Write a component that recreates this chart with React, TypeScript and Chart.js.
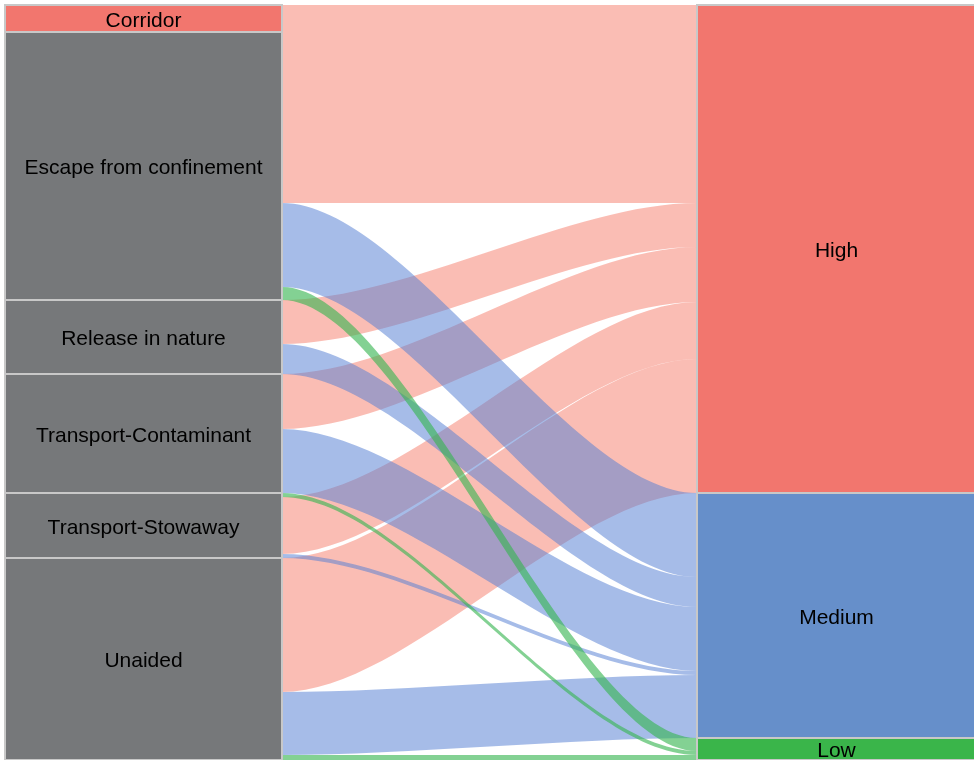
import React, { useEffect, useRef } from 'react';
import { Chart, registerables } from 'chart.js';

Chart.register(...registerables);

// ---- data ----
const sourceNodes = [
  'Corridor',
  'Escape from confinement',
  'Release in nature',
  'Transport-Contaminant',
  'Transport-Stowaway',
  'Unaided',
];
const targetNodes = ['High', 'Medium', 'Low'];
const toHigh = [27, 171, 44, 55, 57, 134];
const toMedium = [0, 84, 30, 64, 4, 63];
const toLow = [0, 13, 0, 0, 4, 5];
// order of the outgoing flows stacked inside each source node (top to bottom)
const sourceStackOrder = [
  ['High', 'Medium', 'Low'],
  ['High', 'Medium', 'Low'],
  ['High', 'Medium', 'Low'],
  ['High', 'Medium', 'Low'],
  ['Low', 'High', 'Medium'],
  ['High', 'Medium', 'Low'],
];

// ---- styles ----
const sourceColors = ['#F2766E', '#76787A', '#76787A', '#76787A', '#76787A', '#76787A'];
const targetColors: Record<string, string> = { High: '#F2766E', Medium: '#668FCA', Low: '#3AB54A' };
const linkColors: Record<string, string> = {
  High: 'rgba(246,128,112,0.52)',
  Medium: 'rgba(84,126,210,0.52)',
  Low: 'rgba(55,180,80,0.62)',
};
const NODE_W = 277 / 969;
const CURVE = 0.3;
const BORDER = '#C8C8C8';
const FONT = '21px "Liberation Sans", Arial, sans-serif';

type Link = { s: number; t: string; v: number; sy0: number; sy1: number; ty0: number; ty1: number };

function buildLayout() {
  const byTarget: Record<string, number[]> = { High: toHigh, Medium: toMedium, Low: toLow };
  const srcTotals = sourceNodes.map((_, i) => toHigh[i] + toMedium[i] + toLow[i]);
  const tgtTotals = targetNodes.map((t) => byTarget[t].reduce((a, b) => a + b, 0));
  const srcStart: number[] = [];
  let acc = 0;
  srcTotals.forEach((v) => { srcStart.push(acc); acc += v; });
  const tgtStart: Record<string, number> = {};
  let acc2 = 0;
  targetNodes.forEach((t, j) => { tgtStart[t] = acc2; acc2 += tgtTotals[j]; });

  const links: Link[] = [];
  sourceNodes.forEach((_, i) => {
    let y = srcStart[i];
    sourceStackOrder[i].forEach((t) => {
      const v = byTarget[t][i];
      if (v > 0) {
        links.push({ s: i, t, v, sy0: y, sy1: y + v, ty0: 0, ty1: 0 });
        y += v;
      }
    });
  });
  targetNodes.forEach((t) => {
    let y = tgtStart[t];
    links
      .filter((l) => l.t === t)
      .sort((a, b) => a.s - b.s)
      .forEach((l) => { l.ty0 = y; l.ty1 = y + l.v; y += l.v; });
  });
  return { srcTotals, tgtTotals, srcStart, tgtStart, links, total: acc };
}

const layout = buildLayout();

const sankeyPlugin = {
  id: 'sankeyDraw',
  afterDatasetsDraw(chart: any) {
    const ctx = chart.ctx as CanvasRenderingContext2D;
    const xs = chart.scales.x;
    const ys = chart.scales.y;
    const lx0 = xs.getPixelForValue(0);
    const lx1 = xs.getPixelForValue(NODE_W);
    const rx0 = xs.getPixelForValue(1 - NODE_W);
    const rx1 = xs.getPixelForValue(1);
    const c1 = lx1 + (rx0 - lx1) * CURVE;
    const c2 = rx0 - (rx0 - lx1) * CURVE;
    ctx.save();

    // links, by target
    targetNodes.forEach((t) => {
      layout.links.filter((l) => l.t === t).forEach((l) => {
        const a0 = ys.getPixelForValue(l.sy0);
        const a1 = ys.getPixelForValue(l.sy1);
        const b0 = ys.getPixelForValue(l.ty0);
        const b1 = ys.getPixelForValue(l.ty1);
        ctx.beginPath();
        ctx.moveTo(lx1, a0);
        ctx.bezierCurveTo(c1, a0, c2, b0, rx0, b0);
        ctx.lineTo(rx0, b1);
        ctx.bezierCurveTo(c2, b1, c1, a1, lx1, a1);
        ctx.closePath();
        ctx.fillStyle = linkColors[t];
        ctx.fill();
      });
    });

    ctx.font = FONT;
    ctx.textAlign = 'center';
    ctx.textBaseline = 'middle';

    const drawNode = (x0: number, x1: number, v0: number, v1: number, color: string, label: string) => {
      const y0 = ys.getPixelForValue(v0);
      const y1 = ys.getPixelForValue(v1);
      ctx.fillStyle = color;
      ctx.fillRect(x0, y0, x1 - x0, y1 - y0);
      ctx.strokeStyle = BORDER;
      ctx.lineWidth = 2;
      ctx.strokeRect(x0, y0, x1 - x0, y1 - y0);
      ctx.fillStyle = '#000';
      ctx.fillText(label, (x0 + x1) / 2, (y0 + y1) / 2 + 2.5);
    };

    sourceNodes.forEach((name, i) => {
      drawNode(lx0, lx1, layout.srcStart[i], layout.srcStart[i] + layout.srcTotals[i], sourceColors[i], name);
    });
    targetNodes.forEach((name, j) => {
      drawNode(rx0, rx1 + 2, layout.tgtStart[name], layout.tgtStart[name] + layout.tgtTotals[j], targetColors[name], name);
    });
    ctx.restore();
  },
};

export default function App() {
  const ref = useRef<HTMLCanvasElement | null>(null);
  useEffect(() => {
    document.body.style.margin = '0';
    if (!ref.current) return;
    const chart = new Chart(ref.current, {
      type: 'scatter',
      data: { datasets: [{ data: [] }] },
      options: {
        animation: false,
        responsive: true,
        maintainAspectRatio: false,
        layout: { padding: { left: 5, top: 5, right: 0, bottom: 0 } },
        plugins: { legend: { display: false }, tooltip: { enabled: false } },
        scales: {
          x: { type: 'linear', min: 0, max: 1, display: false },
          y: { type: 'linear', min: 0, max: layout.total, reverse: true, display: false },
        },
      },
      plugins: [sankeyPlugin],
    });
    return () => chart.destroy();
  }, []);
  return (
    <div style={{ width: 974, height: 760, position: 'relative' }}>
      <canvas ref={ref} />
    </div>
  );
}
